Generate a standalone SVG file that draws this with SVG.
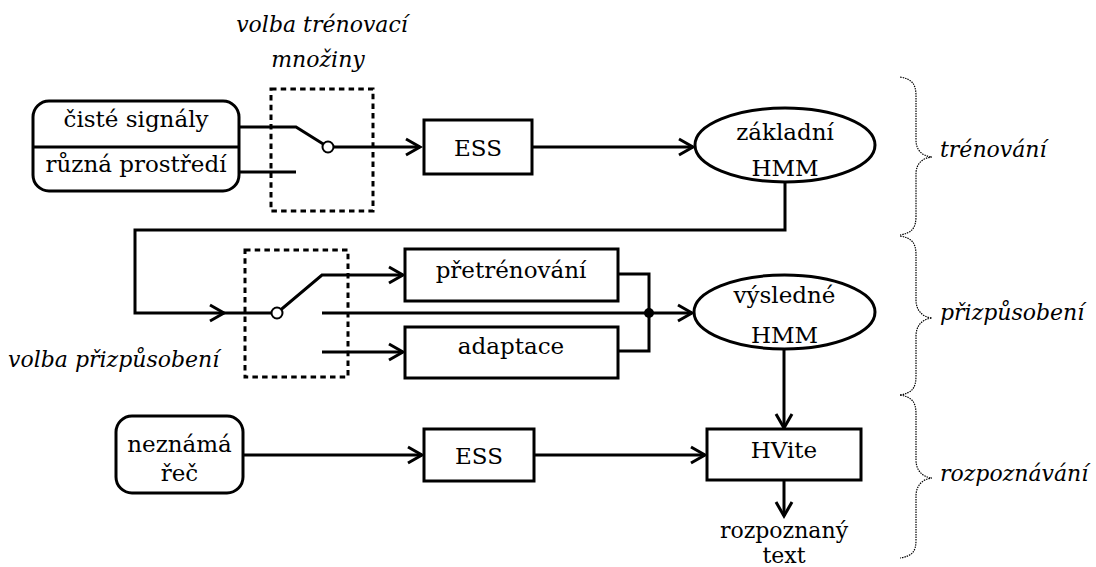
<svg xmlns="http://www.w3.org/2000/svg" width="1096" height="567" viewBox="0 0 1096 567">
<style>
.n{fill:#fff;stroke:#000;stroke-width:3}
.t{font-family:'DejaVu Serif',serif;font-size:23px;fill:#000;text-anchor:middle}
.i{font-family:'DejaVu Serif',serif;font-size:22px;font-style:italic;fill:#000}
.c{fill:none;stroke:#000;stroke-width:3}
.d{fill:none;stroke:#000;stroke-width:3;stroke-dasharray:5.5 4.2}
.b{fill:none;stroke:#000;stroke-width:1.2;stroke-dasharray:1.5 1}
.sw{fill:#fff;stroke:#000;stroke-width:2}
</style>
<defs>
<marker id="a" markerUnits="userSpaceOnUse" viewBox="-17 -11 19 22" refX="0" refY="0" markerWidth="19" markerHeight="22" orient="auto" overflow="visible">
<path d="M-14,-8 L0,0 L-14,8" fill="none" stroke="#000" stroke-width="3" stroke-linejoin="miter"/>
</marker>
</defs>

<g id="labels">
<text class="i" x="322" y="32" text-anchor="middle">volba trénovací</text>
<text class="i" x="318" y="67" text-anchor="middle">množiny</text>
<text class="i" x="8" y="367">volba přizpůsobení</text>
</g>

<g id="switch1">
<rect class="d" x="271" y="89" width="102" height="122"/>
</g>
<g id="switch2">
<rect class="d" x="245" y="250" width="103" height="127"/>
</g>

<g id="connectors">
<path class="c" d="M239,127 H296 L328,147"/>
<path class="c" d="M239,172 H296"/>
<path class="c" d="M333,147 H420" marker-end="url(#a)"/>
<path class="c" d="M532,147 H693" marker-end="url(#a)"/>
<path class="c" d="M785,182 V230 H135 V313 H224" marker-end="url(#a)"/>
<path class="c" d="M224,313 H277 L322,275 H403" marker-end="url(#a)"/>
<path class="c" d="M322,313 H692" marker-end="url(#a)"/>
<path class="c" d="M322,352 H403" marker-end="url(#a)"/>
<path class="c" d="M618,274 H649 V351 H618"/>
<path class="c" d="M784,349 V428" marker-end="url(#a)"/>
<path class="c" d="M243,455 H422" marker-end="url(#a)"/>
<path class="c" d="M534,455 H705" marker-end="url(#a)"/>
<path class="c" d="M784,480 V516" marker-end="url(#a)"/>
<circle class="sw" cx="328" cy="147" r="5.5"/>
<circle class="sw" cx="277" cy="313" r="5.5"/>
<circle cx="649" cy="313" r="5" fill="#000"/>
</g>

<g id="inputs">
<rect class="n" x="33" y="101" width="206" height="90" rx="16"/>
<line x1="33" y1="147" x2="239" y2="147" stroke="#000" stroke-width="3"/>
<text class="t" x="136" y="127">čisté signály</text>
<text class="t" x="136" y="172">různá prostředí</text>
</g>

<g id="ess1">
<rect class="n" x="424" y="120" width="108" height="54"/>
<text class="t" x="478" y="156">ESS</text>
</g>

<g id="zakladni">
<ellipse class="n" cx="785" cy="145" rx="90" ry="37"/>
<text class="t" x="785" y="140">základní</text>
<text class="t" x="785" y="176">HMM</text>
</g>

<g id="pretrenovani">
<rect class="n" x="405" y="249" width="213" height="52"/>
<text class="t" x="511" y="278">přetrénování</text>
</g>

<g id="adaptace">
<rect class="n" x="405" y="327" width="213" height="51"/>
<text class="t" x="511" y="354">adaptace</text>
</g>

<g id="vysledne">
<ellipse class="n" cx="784.5" cy="312" rx="90.5" ry="37"/>
<text class="t" x="784.5" y="303">výsledné</text>
<text class="t" x="784.5" y="343">HMM</text>
</g>

<g id="neznama">
<rect class="n" x="116" y="416" width="127" height="77" rx="16"/>
<text class="t" x="179.5" y="452">neznámá</text>
<text class="t" x="179.5" y="481">řeč</text>
</g>

<g id="ess2">
<rect class="n" x="424" y="429" width="110" height="52"/>
<text class="t" x="479" y="464">ESS</text>
</g>

<g id="hvite">
<rect class="n" x="707" y="429" width="154" height="51"/>
<text class="t" x="784" y="458">HVite</text>
</g>

<g id="output">
<text class="t" x="784" y="538" style="font-size:22px">rozpoznaný</text>
<text class="t" x="784" y="563" style="font-size:22px">text</text>
</g>

<g id="braces">
<path class="b" d="M900,77 C912,79 916,84 916,96 V140 C916,150 922,156 932,157 C922,158 916,164 916,174 V216 C916,228 912,233 900,235"/>
<path class="b" d="M900,236 C912,238 916,243 916,255 V300 C916,310 922,317 932,318 C922,319 916,326 916,336 V376 C916,388 912,393 900,395"/>
<path class="b" d="M900,395 C912,397 916,402 916,414 V460 C916,470 922,477 932,478 C922,479 916,486 916,496 V540 C916,552 912,556 900,558"/>
<text class="i" x="940" y="157">trénování</text>
<text class="i" x="940" y="320">přizpůsobení</text>
<text class="i" x="940" y="481">rozpoznávání</text>
</g>
</svg>
